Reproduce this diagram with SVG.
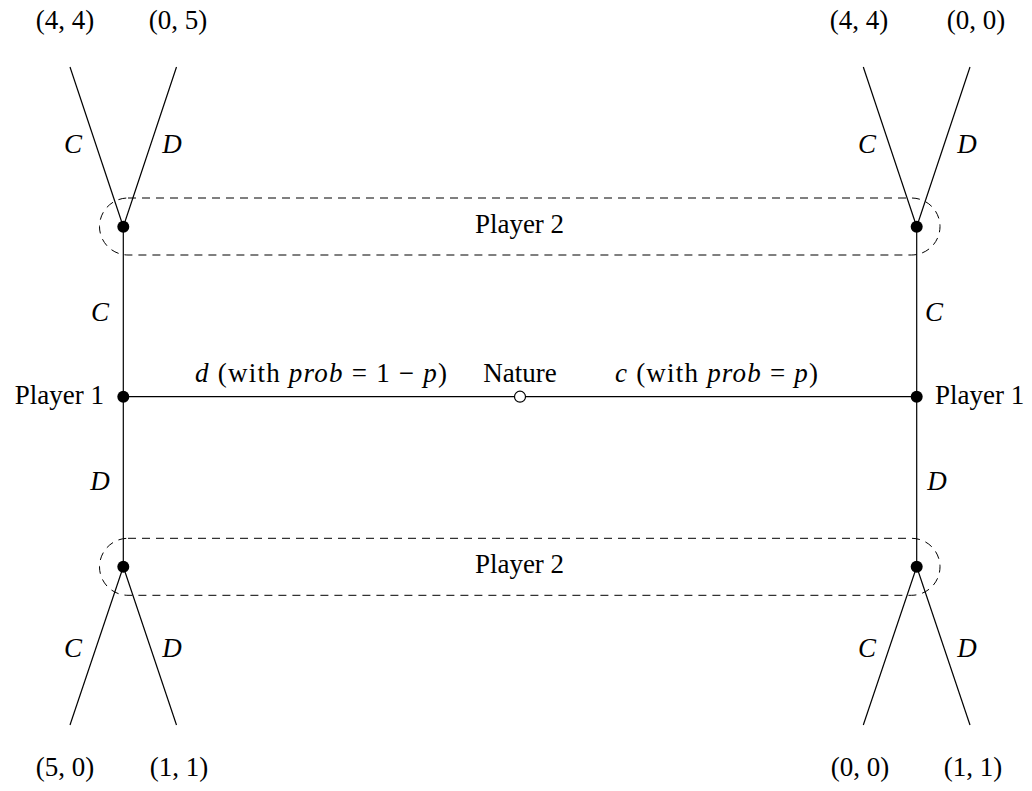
<svg xmlns="http://www.w3.org/2000/svg" width="1032" height="791" viewBox="0 0 1032 791">
<style>
text{font-family:"Liberation Serif","Times New Roman",serif;font-size:27px;fill:#000}
.m{text-anchor:middle}
.i{font-style:italic}
.e{stroke:#000;stroke-width:1.2;fill:none}
.set{stroke:#000;stroke-width:1;fill:none;stroke-dasharray:8 6}
.dot{fill:#000}
.open{fill:#fff;stroke:#000;stroke-width:1.2}
</style>
<rect width="1032" height="791" fill="#fff"/>
<g id="connectors">
<line class="e" x1="123.3" y1="396.7" x2="916.7" y2="396.7"/>
<line class="e" x1="123.3" y1="226.7" x2="123.3" y2="566.7"/>
<line class="e" x1="916.7" y1="226.7" x2="916.7" y2="566.7"/>
<line class="e" x1="123.3" y1="226.7" x2="70" y2="67"/>
<line class="e" x1="123.3" y1="226.7" x2="176.5" y2="67"/>
<line class="e" x1="916.7" y1="226.7" x2="863.3" y2="67"/>
<line class="e" x1="916.7" y1="226.7" x2="970" y2="67"/>
<line class="e" x1="123.3" y1="566.7" x2="70" y2="725"/>
<line class="e" x1="123.3" y1="566.7" x2="176.5" y2="725"/>
<line class="e" x1="916.7" y1="566.7" x2="863.3" y2="725"/>
<line class="e" x1="916.7" y1="566.7" x2="970" y2="725"/>
<text class="m i" x="73" y="153">C</text>
<text class="m i" x="172" y="153">D</text>
<text class="m i" x="867" y="153">C</text>
<text class="m i" x="967" y="153">D</text>
<text class="m i" x="73" y="657">C</text>
<text class="m i" x="172" y="657">D</text>
<text class="m i" x="867" y="657">C</text>
<text class="m i" x="967" y="657">D</text>
<text class="m i" x="100" y="321">C</text>
<text class="m i" x="934" y="321">C</text>
<text class="m i" x="100" y="490">D</text>
<text class="m i" x="937" y="490">D</text>
<text x="195" y="382" textLength="252" lengthAdjust="spacing"><tspan class="i">d</tspan> (with <tspan class="i">prob</tspan> = 1 − <tspan class="i">p</tspan>)</text>
<text x="615" y="382" textLength="203" lengthAdjust="spacing"><tspan class="i">c</tspan> (with <tspan class="i">prob</tspan> = <tspan class="i">p</tspan>)</text>
</g>
<g id="infoset-top">
<rect class="set" x="99.5" y="198" width="840.5" height="57" rx="28.5" ry="28.5"/>
<text class="m" x="519.5" y="233">Player 2</text>
</g>
<g id="infoset-bottom">
<rect class="set" x="99.5" y="538.3" width="840.5" height="57" rx="28.5" ry="28.5"/>
<text class="m" x="519.5" y="573">Player 2</text>
</g>
<g id="nature">
<circle class="open" cx="520" cy="396.7" r="5.5"/>
<text class="m" x="520" y="382">Nature</text>
</g>
<g id="p1-left">
<circle class="dot" cx="123.3" cy="396.7" r="6"/>
<text x="104" y="404" text-anchor="end">Player 1</text>
</g>
<g id="p1-right">
<circle class="dot" cx="916.7" cy="396.7" r="6"/>
<text x="935" y="404">Player 1</text>
</g>
<g id="p2-top-left"><circle class="dot" cx="123.3" cy="226.7" r="6"/></g>
<g id="p2-top-right"><circle class="dot" cx="916.7" cy="226.7" r="6"/></g>
<g id="p2-bottom-left"><circle class="dot" cx="123.3" cy="566.7" r="6"/></g>
<g id="p2-bottom-right"><circle class="dot" cx="916.7" cy="566.7" r="6"/></g>
<g id="payoff-tl1"><text class="m" x="65" y="29">(4, 4)</text></g>
<g id="payoff-tl2"><text class="m" x="178" y="29">(0, 5)</text></g>
<g id="payoff-tr1"><text class="m" x="859" y="29">(4, 4)</text></g>
<g id="payoff-tr2"><text class="m" x="976" y="29">(0, 0)</text></g>
<g id="payoff-bl1"><text class="m" x="65" y="776">(5, 0)</text></g>
<g id="payoff-bl2"><text class="m" x="179" y="776">(1, 1)</text></g>
<g id="payoff-br1"><text class="m" x="860" y="776">(0, 0)</text></g>
<g id="payoff-br2"><text class="m" x="973" y="776">(1, 1)</text></g>
</svg>
